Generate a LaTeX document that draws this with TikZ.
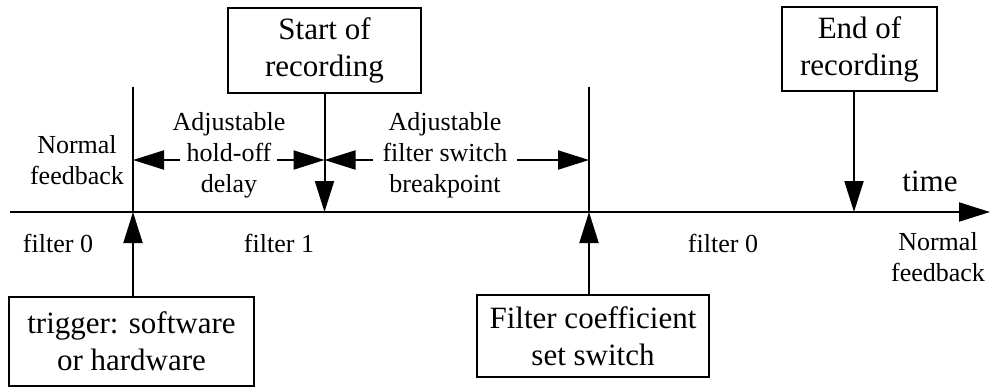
\documentclass[tikz,border=0pt]{standalone}
\usepackage{fontspec}
\setmainfont{Liberation Serif}
\usetikzlibrary{arrows.meta}
\begin{document}
\begin{tikzpicture}[x=1pt,y=-1pt,line width=2pt,
  arr/.style={-{Triangle[length=31pt,width=19pt]}},
  boxnode/.style={draw,line width=2pt,align=center,font=\fontsize{31}{37}\selectfont,inner sep=0pt},
  lbl/.style={align=center,font=\fontsize{26}{31}\selectfont,inner sep=0pt}]
\useasboundingbox (0,0) rectangle (990,388);
% axis
\coordinate (a0) at (10,212);
\coordinate (a1) at (990,212);
\draw[arr] (a0) -- (a1);
% boxes
\node[boxnode,minimum width=193pt,minimum height=85pt] (start) at (324.5,50.5) {Start of\\recording};
\node[boxnode,minimum width=155pt,minimum height=84pt] (end) at (859.5,49) {End of\\recording};
\node[boxnode,minimum width=245pt,minimum height=89pt] (trig) at (131.5,341.5) {trigger: software\\or hardware};
\node[boxnode,minimum width=232pt,minimum height=82pt] (fcs) at (593,336) {Filter coefficient\\set switch};
% vertical markers
\coordinate (v1t) at (133,87);
\coordinate (v1b) at (133,212);
\coordinate (v2t) at (589,87);
\coordinate (v2b) at (589,212);
\draw (v1t) -- (v1b);
\draw (v2t) -- (v2b);
% arrows from boxes
\coordinate (sdown) at (324.5,212);
\coordinate (edown) at (854,212);
\draw[arr] (start.south) -- (sdown);
\draw[arr] (end.south -| edown) -- (edown);
\draw[arr] (trig.north -| v1b) -- (v1b);
\draw[arr] (fcs.north -| v2b) -- (v2b);
% labels
\node[lbl] (nf1) at (77,160) {Normal\\feedback};
\node[lbl] (hold) at (229,155) {Adjustable\\hold-off\\delay};
\node[lbl] (brk) at (445,155) {Adjustable\\filter switch\\breakpoint};
\node[lbl] (time) at (930,181) {\fontsize{31}{37}\selectfont time};
\node[lbl] (f0a) at (58,243) {filter 0};
\node[lbl] (f1) at (279,243) {filter 1};
\node[lbl] (f0b) at (723,243) {filter 0};
\node[lbl] (nf2) at (938,257) {Normal\\feedback};
% interval arrows
\coordinate (h1) at (180,160);
\coordinate (h2) at (277,160);
\coordinate (b1) at (373,160);
\coordinate (b2) at (517,160);
\draw[arr] (h1) -- (v1b |- h1);
\draw[arr] (h2) -- (sdown |- h2);
\draw[arr] (b1) -- (sdown |- b1);
\draw[arr] (b2) -- (v2b |- b2);
\end{tikzpicture}
\end{document}
